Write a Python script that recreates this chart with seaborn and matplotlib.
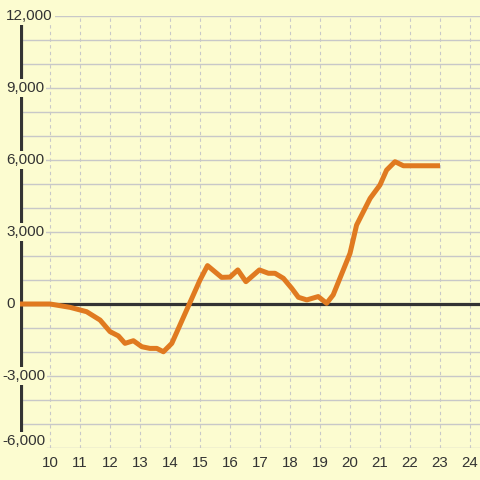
import matplotlib
matplotlib.use("Agg")
import matplotlib.pyplot as plt
import matplotlib.transforms as mtransforms
import pandas as pd
import seaborn as sns

# values
x_vals = [9.0, 10.0, 10.67, 11.22, 11.67, 12.0, 12.28, 12.5, 12.78, 13.06, 13.33,
          13.56, 13.78, 14.06, 15.0, 15.25, 15.72, 16.0, 16.26, 16.53, 16.98, 17.28,
          17.5, 17.78, 18.06, 18.28, 18.56, 18.94, 19.22, 19.44, 20.0, 20.22, 20.67,
          21.0, 21.22, 21.5, 21.78, 23.0]
y_vals = [0, 0, -140, -320, -670, -1150, -1330, -1640, -1530, -1780, -1850,
          -1850, -1990, -1640, 1000, 1600, 1110, 1120, 1420, 930, 1420, 1280,
          1280, 1070, 650, 280, 170, 310, 30, 380, 2110, 3290, 4400,
          4960, 5580, 5930, 5760, 5760]
y_ticks = [-6000, -3000, 0, 3000, 6000, 9000, 12000]
y_labels = ["-6,000", "-3,000", "0", "3,000", "6,000", "9,000", "12,000"]
x_ticks = list(range(10, 25))

bg = "#fcfcd0"
orange = "#e07a20"
dark = "#333333"

df = pd.DataFrame({"x": x_vals, "y": y_vals})

sns.set_style("white")
plt.rcParams["font.family"] = ["Liberation Sans", "DejaVu Sans"]

fig = plt.figure(figsize=(4.8, 4.8), dpi=100, facecolor=bg)
ax = fig.add_axes([20 / 480, 32 / 480, 460 / 480, 432 / 480])
ax.set_facecolor(bg)

ax.set_xlim(9, 9 + 460 / 30)
ax.set_ylim(-6000, 12000)

# grid: solid horizontal every 1000, dashed vertical every 1
for yv in range(-6000, 12001, 1000):
    ax.axhline(yv, color="#c8c8c8", lw=1.0, zorder=0.5)
for xv in x_ticks:
    ax.axvline(xv, color="#c8c8c8", lw=0.8, ls=(0, (3, 3)), zorder=0.5)

ax.axhline(0, color=dark, lw=2.3, zorder=1.5)
ax.axvline(9.03, ymin=0, ymax=(11650 + 6000) / 18000, color=dark, lw=3, zorder=1.5)

sns.lineplot(data=df, x="x", y="y", ax=ax, color=orange, lw=3.6, zorder=3,
             solid_joinstyle="round", solid_capstyle="butt")

for s in ax.spines.values():
    s.set_visible(False)

ax.set_xticks(x_ticks)
ax.set_xticklabels([str(v) for v in x_ticks])
ax.tick_params(axis="x", length=0, pad=6, labelsize=10.8, labelcolor=dark)
ax.set_yticks([])
ax.set_xlabel("")
ax.set_ylabel("")

trans = mtransforms.blended_transform_factory(fig.transFigure, ax.transData)
for yv, lab in zip(y_ticks, y_labels):
    xpos = 2 / 480 if lab.startswith("-") else 6 / 480
    va = "bottom" if yv == y_ticks[0] else "center"
    ax.text(xpos, yv, lab, transform=trans, ha="left", va=va,
            fontsize=11, color=dark, zorder=5, clip_on=False,
            bbox=dict(facecolor=bg, edgecolor="none", pad=1.5))

fig.savefig("out.png", dpi=100, facecolor=bg)
